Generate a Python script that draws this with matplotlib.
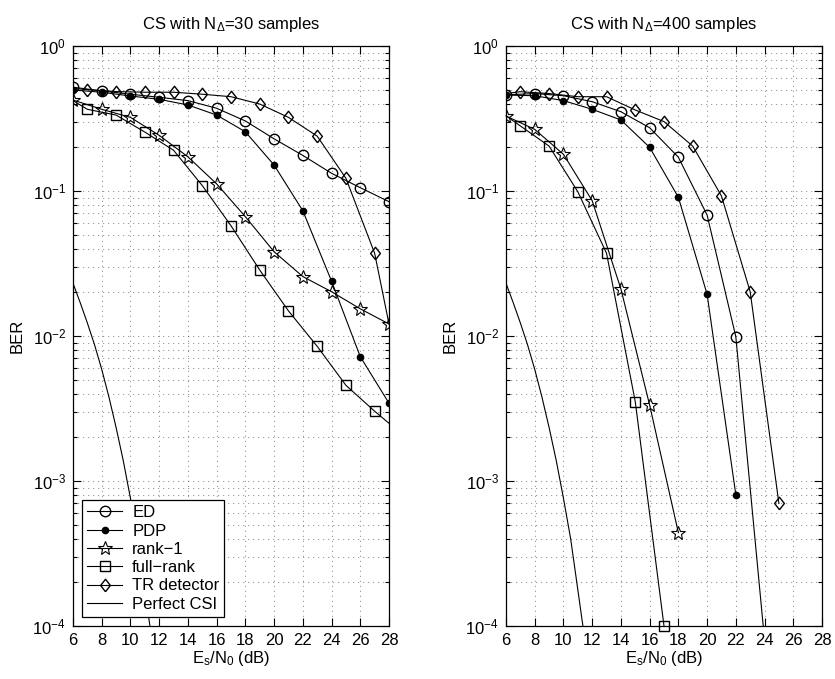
import numpy as np
import matplotlib
matplotlib.use('Agg')
import matplotlib.pyplot as plt
from matplotlib.ticker import LogLocator, NullFormatter, FixedLocator

plt.rcParams['font.family'] = ['Liberation Sans', 'DejaVu Sans']
plt.rcParams['mathtext.fontset'] = 'custom'
plt.rcParams['mathtext.rm'] = 'Liberation Sans'
plt.rcParams['mathtext.it'] = 'Liberation Sans:italic'
plt.rcParams['mathtext.bf'] = 'Liberation Sans:bold'
plt.rcParams['font.size'] = 12

# ---------------- data: N_Delta = 30 ----------------
snr_even30 = [6, 8, 10, 12, 14, 16, 18, 20, 22, 24, 26, 28]
ed30 = [0.52, 0.49, 0.465, 0.443, 0.42, 0.372, 0.304, 0.229, 0.176, 0.1325, 0.1054, 0.0844]
pdp30 = [0.497, 0.480, 0.452, 0.429, 0.392, 0.334, 0.256, 0.151, 0.0731, 0.0239, 0.0072, 0.00344]
rank1_30 = [0.424, 0.366, 0.322, 0.242, 0.172, 0.112, 0.0665, 0.0381, 0.0257, 0.0202, 0.0154, 0.0121]
snr_odd30 = [6, 7, 9, 11, 13, 15, 17, 19, 21, 23, 25, 27, 28]
full30 = [0.42, 0.366, 0.334, 0.255, 0.191, 0.109, 0.0576, 0.0285, 0.0149, 0.00849, 0.00457, 0.00303, 0.0025]
tr30 = [0.51, 0.50, 0.485, 0.48, 0.48, 0.465, 0.447, 0.398, 0.322, 0.239, 0.1224, 0.0372, 0.0121]

# ---------------- data: N_Delta = 400 ----------------
snr_ed400 = [6, 8, 10, 12, 14, 16, 18, 20, 22, 24]
ed400 = [0.46, 0.47, 0.454, 0.413, 0.352, 0.273, 0.171, 0.0683, 0.00989, 8e-5]
snr_pdp400 = [6, 8, 10, 12, 14, 16, 18, 20, 22]
pdp400 = [0.459, 0.454, 0.42, 0.366, 0.309, 0.200, 0.0905, 0.0194, 8.05e-4]
snr_rank400 = [6, 8, 10, 12, 14, 16, 18]
rank1_400 = [0.329, 0.266, 0.179, 0.0857, 0.0211, 0.00334, 4.4e-4]
snr_full400 = [6, 7, 9, 11, 13, 15, 17]
full400 = [0.33, 0.281, 0.204, 0.0989, 0.0372, 0.00352, 1.0e-4]
snr_tr400 = [6, 7, 9, 11, 13, 15, 17, 19, 21, 23, 25]
tr400 = [0.47, 0.484, 0.47, 0.447, 0.447, 0.362, 0.301, 0.204, 0.0924, 0.0202, 7.0e-4]

# ---------------- perfect CSI (same in both panels) ----------------
snr_perf = [6, 6.5, 7, 7.5, 8, 8.5, 9, 9.5, 10, 10.5, 11, 11.5, 12]
perf = [0.0231, 0.0170, 0.0123, 0.0087, 0.00589, 0.0038, 0.00234, 0.00138,
        7.6e-4, 4.0e-4, 1.78e-4, 7.9e-5, 3.5e-5]

xticks = [6, 8, 10, 12, 14, 16, 18, 20, 22, 24, 26, 28]
legend_labels = ['ED', 'PDP', 'rank\u22121', 'full\u2212rank', 'TR detector', 'Perfect CSI']
titles = ['CS with N$_\\Delta$=30 samples', 'CS with N$_\\Delta$=400 samples']

diamond = [(0, -1), (0.78, 0), (0, 1), (-0.78, 0), (0, -1)]
lw = 0.8
st = dict(ED=dict(marker='o', ms=7.5, mfc='none'),
          PDP=dict(marker='o', ms=4.5, mfc='k'),
          R1=dict(marker='*', ms=10, mfc='none', mew=0.8),
          FR=dict(marker='s', ms=6.5, mfc='none'),
          TR=dict(marker=diamond, ms=9, mfc='none'))

fig = plt.figure(figsize=(8.35, 6.79), dpi=100)
axL = fig.add_axes([73/835, 1-626/679, 316/835, 580/679])
axR = fig.add_axes([506/835, 1-626/679, 316/835, 580/679])

grid_ls = (0, (0.6, 4.2))


def style(ax, title):
    ax.set_yscale('log')
    ax.set_xlim(6, 28)
    ax.set_ylim(1e-4, 1)
    ax.xaxis.set_major_locator(FixedLocator(xticks))
    ax.yaxis.set_major_locator(LogLocator(base=10, numticks=10))
    ax.yaxis.set_minor_locator(LogLocator(base=10, subs=np.arange(2, 10), numticks=20))
    ax.yaxis.set_minor_formatter(NullFormatter())
    ax.tick_params(which='both', direction='in', top=True, right=True, width=0.8)
    ax.tick_params(which='major', length=5.5, pad=5, labelsize=12)
    ax.tick_params(which='minor', length=2.8)
    ax.grid(True, which='major', color='0.25', linestyle=grid_ls, lw=0.75)
    ax.grid(True, which='minor', axis='y', color='0.25', linestyle=grid_ls, lw=0.75)
    for s in ax.spines.values():
        s.set_linewidth(0.9)
    ax.set_xlabel('E$_\\mathrm{s}$/N$_\\mathrm{0}$ (dB)', fontsize=12, labelpad=1)
    ax.set_ylabel('BER', fontsize=12, labelpad=6)
    ax.set_title(title, fontsize=12, pad=12)


style(axL, titles[0])
style(axR, titles[1])

kw = dict(color='k', lw=lw)
# left
axL.plot(snr_even30, ed30, label=legend_labels[0], **kw, **st['ED'])
axL.plot(snr_even30, pdp30, label=legend_labels[1], **kw, **st['PDP'])
axL.plot(snr_even30, rank1_30, label=legend_labels[2], **kw, **st['R1'])
axL.plot(snr_odd30, full30, label=legend_labels[3], markevery=list(range(1, len(snr_odd30) - 1)), **kw, **st['FR'])
axL.plot(snr_odd30, tr30, label=legend_labels[4], markevery=list(range(1, len(snr_odd30) - 1)), **kw, **st['TR'])
axL.plot(snr_perf, perf, label=legend_labels[5], **kw)

# right
axR.plot(snr_ed400, ed400, **kw, **st['ED'])
axR.plot(snr_pdp400, pdp400, **kw, **st['PDP'])
axR.plot(snr_rank400, rank1_400, **kw, **st['R1'])
axR.plot(snr_full400, full400, markevery=list(range(1, len(snr_full400))), clip_on=False, **kw, **st['FR'])
axR.plot(snr_tr400, tr400, markevery=list(range(1, len(snr_tr400))), **kw, **st['TR'])
axR.plot(snr_perf, perf, **kw)

leg = axL.legend(loc='lower left', fontsize=12, frameon=True, fancybox=False,
                 edgecolor='k', framealpha=1, handlelength=2.1, handletextpad=0.6,
                 labelspacing=0.2, borderpad=0.3, borderaxespad=0.55)
leg.get_frame().set_linewidth(0.9)

fig.savefig('out.png', dpi=100)
